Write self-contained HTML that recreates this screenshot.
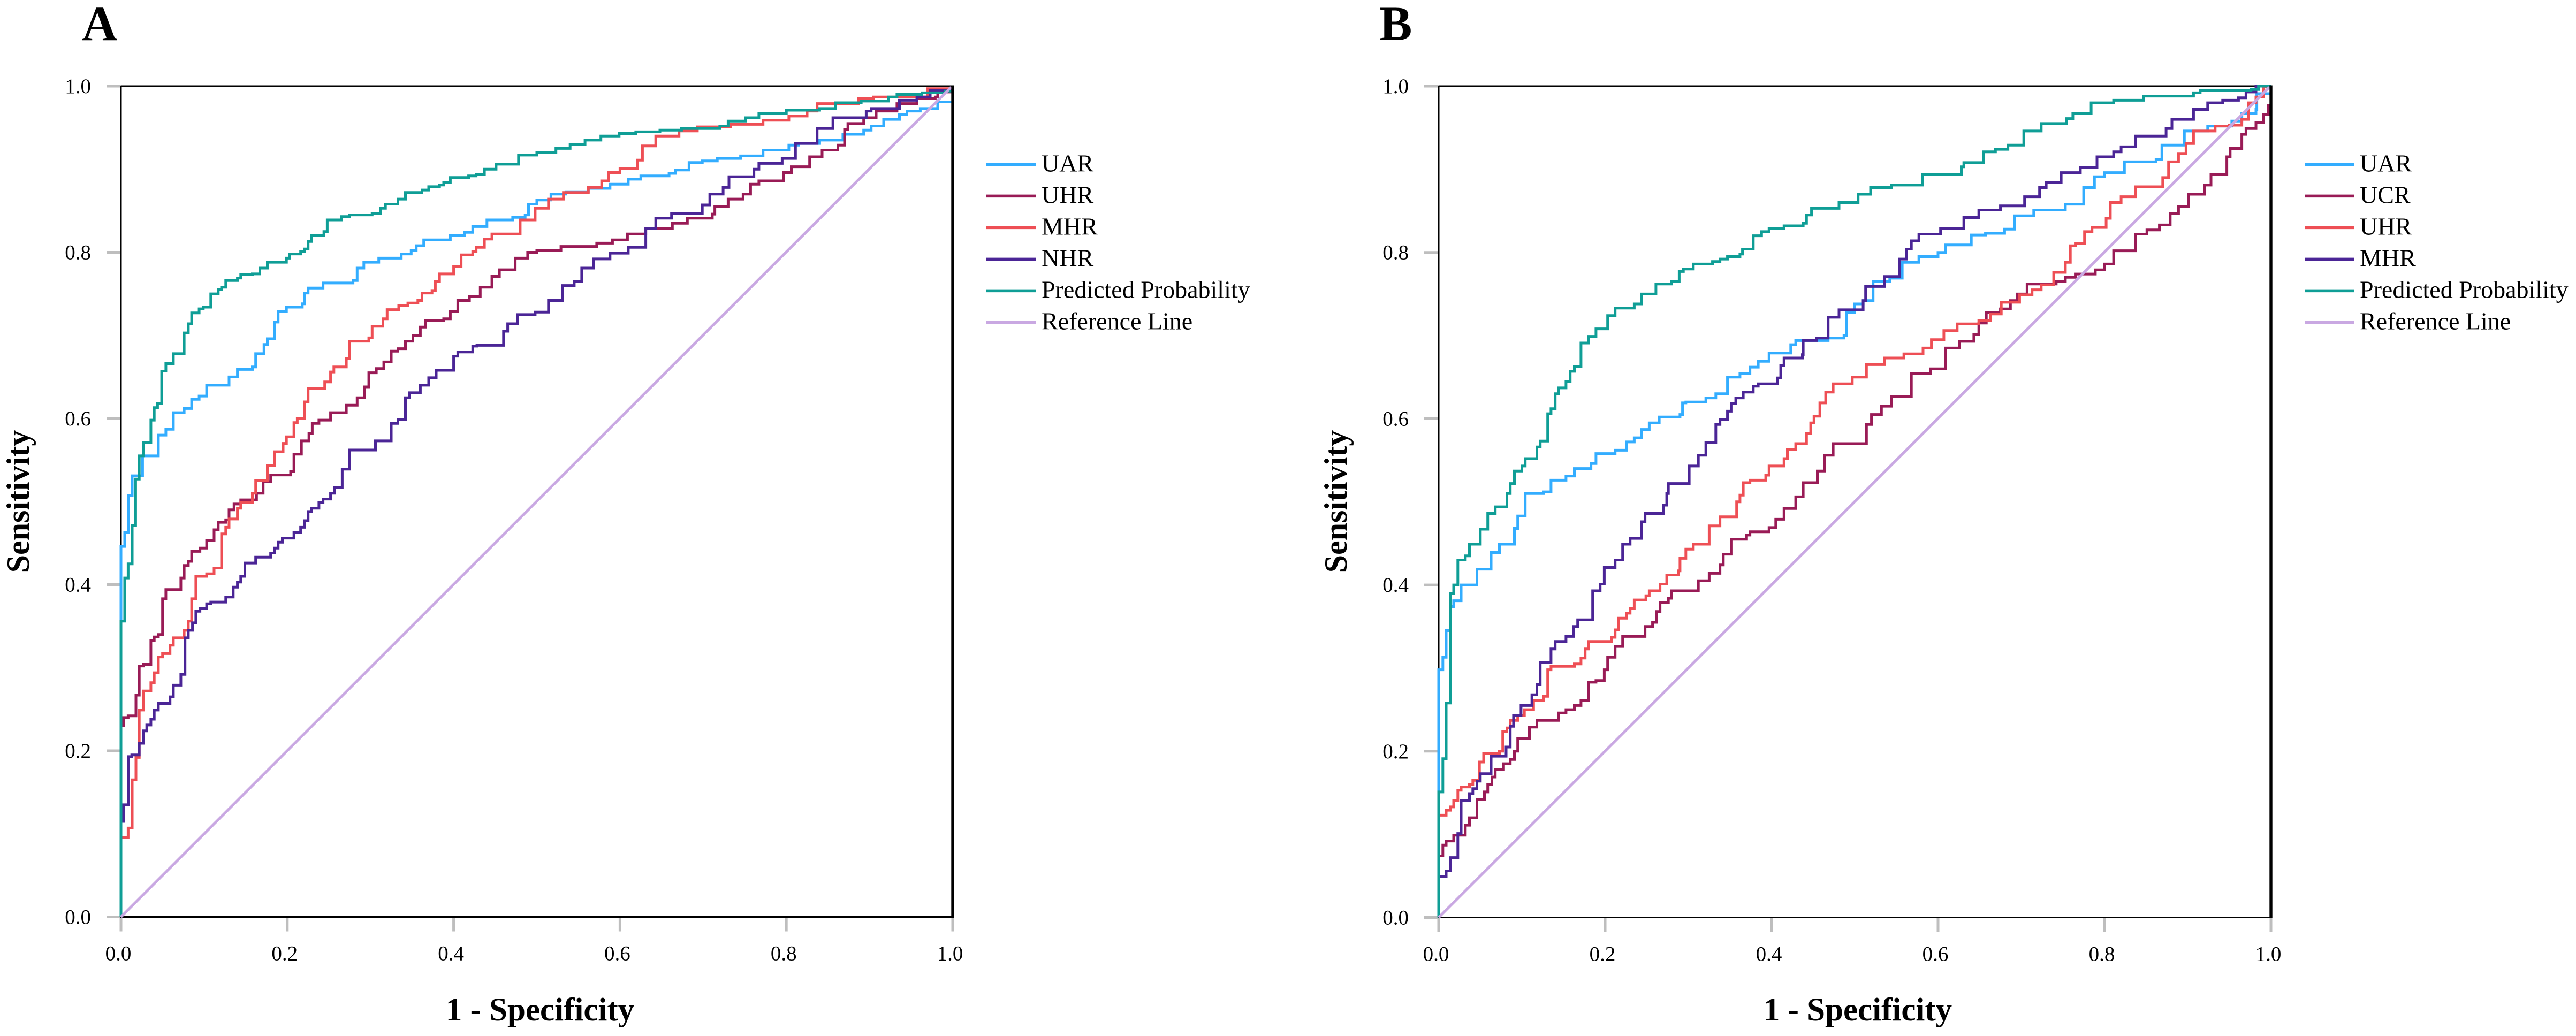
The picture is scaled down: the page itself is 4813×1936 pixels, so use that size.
<!DOCTYPE html>
<html lang="en">
<head>
<meta charset="utf-8">
<title>ROC curves</title>
<style>
html,body{margin:0;padding:0;background:#fff;width:4813px;height:1936px;overflow:hidden}
svg{display:block}
text{font-family:"Liberation Serif",serif;fill:#000}
</style>
</head>
<body>
<svg id="chart" xmlns="http://www.w3.org/2000/svg" width="4813" height="1936" viewBox="0 0 4813 1936"></svg>
<script>
const tickValues=[0,.2,.4,.6,.8,1];
const tickLabels=['0.0','0.2','0.4','0.6','0.8','1.0'];
const refFpr=[0,1];
const refTpr=[0,1];

const aUarFpr=[0,.0045,.009,.0135,.026,.045,.054,.063,.076,.085,.094,.103,.13,.14,.158,.162,.172,.176,.185,.189,.199,.218,.221,.225,.243,.279,.284,.292,.31,.337,.349,.355,.364,.396,.413,.423,.44,.471,.486,.49,.5,.517,.535,.562,.588,.61,.625,.659,.667,.683,.699,.717,.745,.772,.803,.815,.84,.868,.893,.902,.917,.936,.945,.961,.982,1];
const aUarTpr=[.446,.463,.507,.531,.555,.58,.587,.607,.612,.623,.627,.64,.65,.659,.662,.678,.689,.696,.716,.729,.734,.738,.751,.757,.763,.766,.781,.788,.793,.798,.802,.808,.815,.82,.824,.831,.839,.842,.845,.858,.863,.87,.873,.877,.882,.888,.892,.895,.899,.908,.91,.913,.916,.923,.929,.931,.935,.942,.947,.952,.96,.966,.97,.973,.981,.981];

const aUhrFpr=[0,.003,.0086,.018,.022,.027,.036,.04,.045,.05,.054,.072,.076,.081,.085,.095,.103,.112,.117,.126,.13,.136,.144,.163,.171,.18,.204,.208,.217,.226,.23,.238,.252,.271,.284,.293,.298,.307,.316,.325,.333,.342,.351,.36,.366,.388,.396,.405,.419,.432,.446,.455,.474,.489,.5,.529,.572,.591,.609,.631,.663,.681,.711,.714,.73,.748,.757,.767,.797,.806,.828,.843,.862,.87,.874,.893,.908,.933,.957,.979,.982,1];
const aUhrTpr=[.23,.24,.242,.267,.302,.304,.333,.337,.34,.383,.394,.408,.423,.428,.44,.444,.453,.466,.475,.478,.49,.497,.502,.51,.524,.532,.536,.557,.573,.582,.594,.598,.607,.616,.625,.638,.655,.66,.668,.681,.684,.693,.7,.71,.718,.72,.729,.742,.747,.758,.771,.779,.793,.8,.802,.807,.811,.815,.822,.829,.835,.841,.846,.855,.864,.87,.882,.886,.896,.903,.915,.923,.929,.948,.955,.962,.97,.979,.985,.987,.993,1];

const aMhrFpr=[0,.003,.0086,.0135,.018,.022,.027,.036,.04,.045,.05,.059,.063,.076,.081,.085,.09,.103,.112,.121,.126,.13,.14,.144,.158,.162,.176,.185,.195,.199,.208,.212,.221,.225,.245,.252,.256,.271,.275,.298,.302,.315,.32,.334,.345,.357,.362,.374,.378,.383,.4,.409,.423,.427,.437,.446,.48,.498,.514,.532,.562,.578,.586,.6,.621,.627,.643,.671,.693,.733,.772,.803,.825,.837,.887,.905,.97,1];
const aMhrTpr=[.096,.096,.107,.165,.192,.249,.272,.282,.294,.313,.317,.327,.336,.345,.356,.383,.41,.413,.42,.461,.469,.479,.492,.499,.51,.525,.543,.56,.57,.578,.595,.6,.62,.636,.644,.656,.662,.672,.693,.697,.711,.72,.731,.736,.739,.742,.751,.754,.765,.774,.783,.797,.801,.806,.816,.822,.839,.853,.864,.872,.878,.886,.896,.901,.911,.928,.94,.946,.951,.954,.959,.964,.97,.979,.985,.987,.997,1];

const aNhrFpr=[0,.003,.009,.013,.022,.027,.031,.036,.04,.045,.059,.063,.072,.077,.081,.086,.09,.095,.103,.108,.126,.135,.14,.144,.149,.162,.18,.185,.189,.194,.208,.216,.221,.225,.229,.238,.243,.252,.257,.266,.275,.306,.325,.333,.342,.347,.36,.37,.379,.4,.405,.423,.428,.46,.465,.477,.498,.514,.531,.545,.554,.568,.588,.61,.631,.643,.662,.699,.708,.724,.731,.761,.767,.795,.811,.837,.856,.896,.902,.936,.957,.973,1];
const aNhrTpr=[.115,.135,.193,.195,.209,.224,.231,.238,.249,.257,.265,.279,.292,.336,.345,.354,.368,.371,.377,.379,.385,.397,.403,.41,.426,.433,.438,.444,.451,.456,.463,.469,.477,.488,.492,.499,.503,.51,.517,.539,.562,.573,.594,.599,.625,.631,.64,.649,.658,.675,.68,.687,.688,.705,.714,.725,.728,.742,.76,.765,.781,.792,.799,.806,.829,.841,.847,.857,.87,.878,.891,.9,.907,.913,.931,.949,.962,.97,.973,.983,.987,.995,1];

const aPredFpr=[0,.0045,.0086,.0135,.0176,.022,.027,.036,.04,.044,.049,.054,.063,.076,.081,.085,.094,.099,.108,.117,.121,.126,.14,.144,.158,.167,.176,.199,.203,.216,.221,.225,.229,.244,.248,.265,.275,.302,.312,.318,.333,.342,.362,.37,.383,.388,.396,.418,.427,.437,.451,.478,.5,.523,.54,.558,.577,.599,.619,.648,.674,.72,.73,.751,.767,.8,.84,.859,.89,.923,.933,.963,.991,1];
const aPredTpr=[.356,.408,.425,.471,.527,.555,.571,.598,.613,.618,.657,.666,.678,.703,.714,.727,.732,.734,.75,.755,.758,.766,.769,.773,.774,.781,.788,.793,.798,.801,.804,.813,.82,.825,.839,.843,.845,.847,.853,.858,.864,.872,.875,.879,.881,.884,.89,.892,.894,.9,.906,.917,.92,.925,.93,.935,.94,.943,.945,.947,.949,.952,.958,.962,.967,.971,.973,.98,.982,.987,.99,.992,.994,1];

const bUarFpr=[0,.005,.009,.014,.018,.027,.046,.063,.073,.091,.095,.104,.126,.135,.153,.163,.183,.189,.212,.226,.235,.244,.253,.265,.29,.293,.297,.321,.333,.347,.362,.374,.384,.397,.423,.429,.468,.487,.49,.5,.51,.522,.542,.557,.577,.6,.609,.64,.657,.68,.692,.715,.753,.775,.788,.8,.824,.862,.869,.896,.924,.953,.965,.982,.983,1];
const bUarTpr=[.298,.313,.345,.374,.381,.4,.419,.439,.449,.468,.483,.51,.512,.526,.531,.54,.546,.558,.562,.572,.577,.587,.595,.602,.605,.619,.62,.625,.63,.65,.654,.662,.669,.679,.689,.694,.697,.7,.728,.738,.742,.765,.769,.788,.795,.8,.809,.821,.823,.828,.844,.851,.858,.878,.891,.896,.909,.912,.929,.946,.952,.958,.967,.972,.991,.997];

const bUcrFpr=[0,.003,.005,.009,.018,.032,.037,.046,.055,.059,.064,.068,.078,.086,.091,.095,.109,.118,.144,.153,.163,.171,.18,.189,.199,.203,.212,.221,.248,.257,.262,.266,.276,.28,.312,.325,.338,.342,.352,.37,.374,.397,.405,.415,.429,.438,.455,.464,.474,.514,.52,.532,.544,.568,.591,.609,.626,.643,.649,.658,.675,.687,.695,.707,.742,.753,.765,.789,.8,.811,.837,.851,.866,.879,.889,.901,.92,.928,.947,.951,.965,.97,.982,.991,.997,1];
const bUcrTpr=[.074,.074,.087,.092,.099,.111,.12,.142,.151,.16,.169,.178,.185,.19,.2,.215,.229,.237,.246,.25,.255,.261,.283,.285,.298,.313,.326,.338,.35,.355,.368,.379,.384,.393,.405,.414,.424,.437,.455,.46,.464,.469,.479,.492,.506,.523,.537,.556,.57,.593,.605,.615,.627,.654,.66,.685,.693,.701,.715,.728,.732,.742,.75,.762,.765,.77,.774,.779,.786,.802,.822,.827,.833,.847,.855,.87,.881,.894,.915,.925,.942,.949,.956,.966,.977,1];

const bUhrFpr=[0,.002,.009,.014,.018,.023,.027,.037,.041,.049,.054,.073,.077,.082,.086,.095,.103,.114,.126,.131,.135,.163,.171,.176,.18,.208,.212,.216,.226,.23,.235,.249,.253,.266,.274,.288,.29,.297,.306,.325,.338,.358,.362,.366,.374,.393,.397,.415,.419,.429,.442,.447,.451,.458,.465,.474,.497,.514,.536,.559,.582,.592,.607,.623,.649,.663,.676,.698,.713,.724,.739,.753,.759,.765,.776,.785,.802,.807,.82,.837,.87,.877,.889,.898,.907,.933,.95,.965,.973,.982,.991,1];
const bUhrTpr=[.123,.123,.129,.133,.141,.153,.157,.16,.165,.187,.197,.2,.224,.228,.237,.243,.25,.261,.266,.298,.302,.305,.312,.323,.332,.337,.346,.36,.366,.372,.382,.387,.393,.401,.412,.417,.432,.443,.449,.471,.482,.5,.508,.523,.526,.532,.543,.552,.563,.57,.582,.595,.603,.619,.632,.642,.65,.665,.673,.678,.685,.695,.706,.714,.718,.726,.74,.749,.755,.761,.776,.788,.808,.811,.825,.83,.841,.86,.867,.879,.89,.909,.919,.931,.946,.952,.953,.96,.98,.987,.999,1];

const bMhrFpr=[0,.002,.009,.014,.023,.027,.037,.041,.046,.05,.063,.081,.086,.09,.099,.112,.118,.122,.135,.14,.153,.162,.167,.185,.194,.199,.212,.221,.23,.244,.248,.27,.274,.276,.301,.312,.321,.333,.338,.347,.352,.357,.366,.378,.384,.407,.411,.415,.437,.438,.454,.468,.481,.51,.513,.536,.554,.562,.568,.577,.603,.631,.649,.675,.704,.722,.73,.748,.771,.791,.811,.82,.837,.874,.881,.907,.924,.942,.961,.97,.982,1];
const bMhrTpr=[.049,.049,.056,.072,.101,.141,.149,.155,.164,.173,.194,.205,.23,.243,.255,.268,.28,.307,.323,.332,.338,.35,.358,.393,.401,.421,.43,.449,.456,.476,.486,.496,.51,.522,.543,.556,.571,.593,.599,.609,.618,.625,.632,.639,.642,.649,.664,.673,.677,.694,.697,.722,.731,.742,.759,.771,.792,.804,.814,.822,.829,.842,.851,.856,.867,.878,.884,.896,.902,.915,.921,.927,.94,.949,.96,.972,.98,.983,.986,.993,1,1];

const bPredFpr=[0,.005,.009,.014,.018,.023,.032,.037,.05,.059,.068,.082,.086,.091,.1,.104,.118,.122,.131,.135,.14,.144,.153,.158,.163,.171,.18,.189,.203,.212,.235,.244,.261,.28,.289,.294,.306,.329,.338,.347,.362,.365,.378,.388,.397,.415,.438,.442,.448,.481,.504,.519,.544,.581,.628,.631,.655,.669,.684,.703,.724,.754,.762,.784,.811,.847,.907,.915,.976,.985,1];
const bPredTpr=[.151,.191,.258,.39,.4,.43,.435,.449,.467,.486,.494,.51,.522,.537,.543,.552,.566,.573,.606,.612,.63,.637,.645,.657,.663,.691,.699,.708,.724,.733,.738,.75,.762,.765,.777,.78,.786,.789,.792,.795,.798,.804,.82,.825,.829,.832,.835,.845,.853,.86,.87,.878,.881,.894,.903,.908,.921,.924,.929,.946,.955,.961,.967,.98,.983,.988,.992,.995,.996,1,1];

const panelASeries=['UAR','UHR','MHR','NHR','Predicted Probability','Reference Line'];
const panelBSeries=['UAR','UCR','UHR','MHR','Predicted Probability','Reference Line'];

const SVG='http://www.w3.org/2000/svg';
const chart=document.getElementById('chart');
const colors=['#33adff','#991b56','#ee4f55','#4b2596','#0f9e96','#c9a8e2'];

function add(parent,tag,attrs,txt){
  const el=document.createElementNS(SVG,tag);
  for(const k in attrs){el.setAttribute(k,attrs[k]);}
  if(txt!==undefined){el.textContent=txt;}
  parent.appendChild(el);
  return el;
}

function drawPanel(p,letter,left,right,top,bottom,letterX,names,curves){
  const xs=v=>left+v*(right-left);
  const ys=v=>bottom-v*(bottom-top);
  const g=add(chart,'g',{});
  
  

  const lab=add(g,'text',{x:letterX,y:75,'font-size':92,'font-weight':'bold'},letter);
  
  

  tickValues.forEach((v,i)=>{
    const yt=add(g,'line',{x1:left-27,x2:left,y1:ys(v),y2:ys(v),stroke:'#bebebe','stroke-width':5});
    
    
    const yl=add(g,'text',{x:left-56,y:ys(v)+13,'font-size':39,'text-anchor':'end'},tickLabels[i]);
    
    
    const xt=add(g,'line',{x1:xs(v),x2:xs(v),y1:bottom,y2:bottom+27,stroke:'#bebebe','stroke-width':5});
    
    
    const xl=add(g,'text',{x:xs(v)-5,y:bottom+81,'font-size':39,'text-anchor':'middle'},tickLabels[i]);
    
    
  });

  const frame=add(g,'path',{d:'M'+left+' '+top+'H'+right+'M'+left+' '+top+'V'+bottom+'H'+right,fill:'none',stroke:'#000','stroke-width':3});
  
  

  curves.forEach((c,i)=>{
    let d='M'+xs(0)+' '+ys(0);
    if(i===5){
      d+='L'+(xs(c[0][1])-3)+' '+(ys(c[1][1])+2);
    }else{
      for(let k=0;k<c[0].length;k++){
        d+='H'+xs(c[0][k]).toFixed(1)+'V'+ys(c[1][k]).toFixed(1);
      }
    }
    const curve=add(g,'path',{d:d,fill:'none',stroke:colors[i],'stroke-width':5,'stroke-linejoin':'miter'});
    
    
  });

  const rightAxis=add(g,'line',{x1:right,x2:right,y1:top-1.5,y2:bottom+1.5,stroke:'#000','stroke-width':5.4});
  
  

  names.forEach((n,i)=>{
    const ly=307.4+i*59;
    const sw=add(g,'line',{x1:right+63,x2:right+156,y1:ly,y2:ly,stroke:colors[i],'stroke-width':5.5});
    
    
    const lt=add(g,'text',{x:right+166,y:ly+13,'font-size':46},n);
    
    
  });

  const xTitle=add(g,'text',{x:left+783,y:1907,'font-size':61,'font-weight':'bold','text-anchor':'middle'},'1 - Specificity');
  
  
  const yTitle=add(g,'text',{x:0,y:0,'font-size':60,'font-weight':'bold','text-anchor':'middle',transform:'translate('+(left-172)+' 937) rotate(-90)'},'Sensitivity');
  
  
}

drawPanel('a','A',226,1780,161,1713.5,153,panelASeries,[
  [aUarFpr,aUarTpr],[aUhrFpr,aUhrTpr],[aMhrFpr,aMhrTpr],[aNhrFpr,aNhrTpr],[aPredFpr,aPredTpr],[refFpr,refTpr]
]);
drawPanel('b','B',2688,4243,161,1714.5,2577,panelBSeries,[
  [bUarFpr,bUarTpr],[bUcrFpr,bUcrTpr],[bUhrFpr,bUhrTpr],[bMhrFpr,bMhrTpr],[bPredFpr,bPredTpr],[refFpr,refTpr]
]);
</script>
</body>
</html>
